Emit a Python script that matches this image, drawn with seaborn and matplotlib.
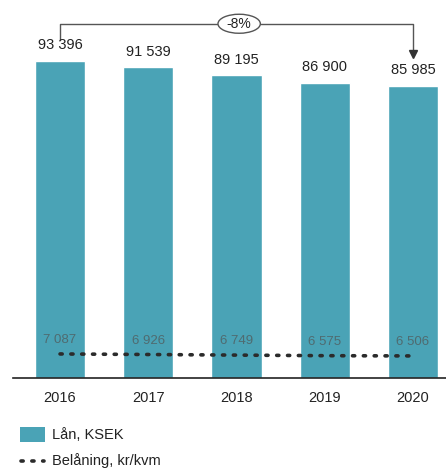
import matplotlib
matplotlib.use("Agg")
import matplotlib.pyplot as plt
import seaborn as sns
import pandas as pd
from matplotlib.patches import Ellipse, Rectangle
from matplotlib.lines import Line2D

years = ["2016", "2017", "2018", "2019", "2020"]
lan_ksek = [93396, 91539, 89195, 86900, 85985]
belaning = [7087, 6926, 6749, 6575, 6506]
change_label = "-8%"

sns.set_theme(style="white")
plt.rcParams["font.family"] = ["Liberation Sans", "DejaVu Sans"]

fig = plt.figure(figsize=(4.46, 4.72), dpi=100)
ax = fig.add_axes([13/446, 1-378/472, 433/446, 378/472])

df = pd.DataFrame({"year": years, "lan": lan_ksek, "bel": belaning})
bar_color = "#4aa3b6"
sns.barplot(data=df, x="year", y="lan", color=bar_color, saturation=1,
            width=0.57, ax=ax, legend=False)
dot_style = (0, (0.6, 2.4))
ax.plot(range(len(years)), belaning, linestyle=dot_style, color="#2b2b2b",
        linewidth=2.6, dash_capstyle="round")

ax.set_xlim(-0.533, 4.374)
ax.set_ylim(0, 111400)
ax.set_xlabel("")
ax.set_ylabel("")
ax.set_yticks([])
for s in ["top", "right", "left"]:
    ax.spines[s].set_visible(False)
ax.spines["bottom"].set_color("#222222")
ax.spines["bottom"].set_linewidth(1.2)
ax.tick_params(axis="x", length=0, pad=9, labelsize=10.5, labelcolor="#222222")

fmt = lambda v: f"{v:,}".replace(",", " ")
for i, v in enumerate(lan_ksek):
    ax.text(i, v + 2600, fmt(v), ha="center", va="bottom", fontsize=10.5, color="#222222")
for i, v in enumerate(belaning):
    ax.text(i, v + 2300, fmt(v), ha="center", va="bottom", fontsize=9.5, color="#4f6b70")

# bracket
yb = 104400
ax.plot([0, 0, 4, 4], [lan_ksek[0] + 6300, yb, yb, lan_ksek[4] + 9800],
        color="#555555", linewidth=1.0, clip_on=False)
ax.plot([4], [lan_ksek[4] + 9500], marker="v", color="#333333", markersize=6, clip_on=False)
ax.add_patch(Ellipse((2.03, yb), 0.48, 5600, facecolor="white", edgecolor="#555555",
                     linewidth=1.0, clip_on=False, zorder=5))
ax.text(2.03, yb, change_label, ha="center", va="center", fontsize=10, color="#222222",
        zorder=6)

# legend
fig.patches.append(Rectangle((20/446, 1-442/472), 25/446, 15/472, transform=fig.transFigure,
                             facecolor=bar_color, edgecolor="none"))
fig.text(52/446, 1-435/472, "Lån, KSEK", fontsize=10.5, va="center", color="#222222")
fig.lines.append(Line2D([21/446, 44/446], [1-461/472, 1-461/472], transform=fig.transFigure,
                        linestyle=dot_style, color="#2b2b2b", linewidth=2.6,
                        dash_capstyle="round"))
fig.text(52/446, 1-461/472, "Belåning, kr/kvm", fontsize=10.5, va="center", color="#222222")

fig.savefig("out.png", dpi=100)
